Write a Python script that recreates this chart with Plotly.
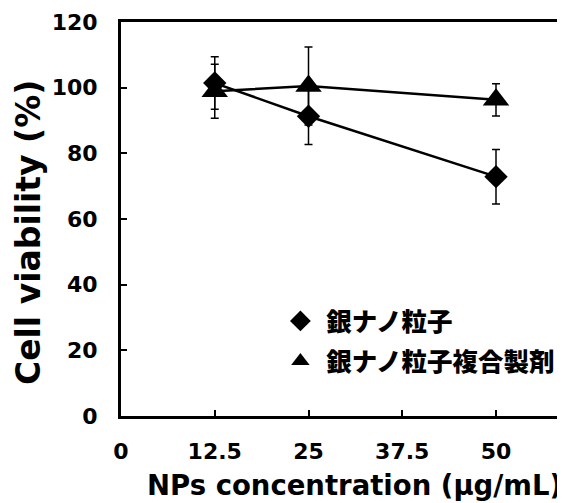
import plotly.graph_objects as go

concentration = [12.5, 25, 50]
ag_np = [101.4, 91.3, 72.9]
ag_np_err = [8.0, 8.6, 8.3]
ag_comp = [98.9, 100.5, 96.3]
ag_comp_err = [8.2, 11.9, 4.9]
name_np = "銀ナノ粒子"
name_comp = "銀ナノ粒子複合製剤"
x_ticks = [0, 12.5, 25, 37.5, 50]
x_tick_text = ["0", "12.5", "25", "37.5", "50"]
y_ticks = [0, 20, 40, 60, 80, 100, 120]

fig = go.Figure()
err_style = dict(type="data", thickness=1.5, width=4, color="black")
fig.add_trace(go.Scatter(
    x=concentration, y=ag_comp, mode="lines+markers",
    line=dict(color="black", width=2.5),
    marker=dict(symbol="triangle-up", size=23, color="black"),
    error_y=dict(array=ag_comp_err, **err_style), showlegend=False))
fig.add_trace(go.Scatter(
    x=concentration, y=ag_np, mode="lines+markers",
    line=dict(color="black", width=2.5),
    marker=dict(symbol="diamond", size=18, color="black"),
    error_y=dict(array=ag_np_err, **err_style), showlegend=False))
# legend-only entries (markers only)
fig.add_trace(go.Scatter(x=[None], y=[None], mode="markers", name=" " + name_np,
                         marker=dict(symbol="diamond", size=18, color="black"),
                         legendgroup="a"))
fig.add_trace(go.Scatter(x=[None], y=[None], mode="markers", name=" " + name_comp,
                         marker=dict(symbol="triangle-up", size=23, color="black"),
                         legendgroup="b"))

tickfont = dict(family="DejaVu Sans", size=22, color="black", weight="bold")
fig.update_layout(
    width=565, height=503,
    margin=dict(l=113, r=8, t=14, b=95, autoexpand=False),
    paper_bgcolor="white", plot_bgcolor="white",
    xaxis=dict(range=[0, 59.2], tickvals=x_ticks, ticktext=x_tick_text,
               showline=True, linewidth=3, linecolor="black", mirror=True,
               ticks="inside", ticklen=6, tickwidth=1.5, tickcolor="black",
               showgrid=False, zeroline=False, tickfont=tickfont,
               ticklabelstandoff=14, automargin=False),
    yaxis=dict(range=[0, 120], tickvals=y_ticks,
               showline=True, linewidth=3, linecolor="black",
               ticks="inside", ticklen=6, tickwidth=1.5, tickcolor="black",
               showgrid=False, zeroline=False, tickfont=tickfont,
               ticklabelstandoff=16, automargin=False),
    legend=dict(x=0.359, y=0.30, xanchor="left", yanchor="top",
                bgcolor="rgba(0,0,0,0)", tracegroupgap=4,
                font=dict(family="Noto Sans CJK JP", size=25.5, color="black", weight=900)),
    annotations=[
        dict(text="Cell viability (%)", xref="paper", yref="paper", x=-0.208, y=0.466,
             xanchor="center", yanchor="middle", textangle=-90, showarrow=False,
             font=dict(family="DejaVu Sans", size=33, color="black", weight="bold")),
        dict(text="NPs concentration (µg/mL)", xref="paper", yref="paper", x=0.527, y=-0.175,
             xanchor="center", yanchor="middle", showarrow=False,
             font=dict(family="DejaVu Sans", size=27.5, color="black", weight="bold")),
    ],
)
fig.write_html("out.html")
